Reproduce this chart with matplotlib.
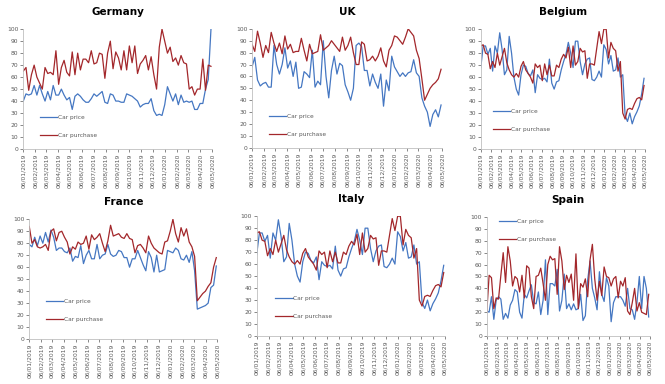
import pandas as pd
import matplotlib
matplotlib.use("Agg")
import matplotlib.pyplot as plt
import matplotlib.dates as mdates

# weekly observations, 06/01/2019 onwards
dates = pd.date_range("2019-01-06", periods=70, freq="7D")

germany_price = [40, 46, 45, 46, 53, 45, 53, 46, 40, 48,
                 41, 53, 45, 45, 50, 45, 41, 43, 33, 44,
                 46, 44, 41, 39, 39, 42, 46, 44, 46, 48,
                 39, 38, 46, 45, 40, 40, 39, 39, 46, 45,
                 44, 42, 40, 35, 37, 38, 38, 42, 32, 28,
                 29, 28, 37, 52, 46, 40, 46, 37, 45, 39,
                 40, 39, 40, 33, 33, 38, 38, 50, 58, 100]
germany_purchase = [65, 68, 49, 62, 70, 60, 55, 50, 68, 63,
                    64, 62, 82, 54, 68, 74, 64, 61, 81, 62,
                    80, 66, 75, 75, 72, 82, 71, 72, 80, 79,
                    59, 80, 90, 67, 81, 76, 66, 82, 66, 86,
                    72, 86, 63, 71, 74, 78, 66, 77, 62, 50,
                    85, 100, 90, 80, 85, 73, 76, 70, 78, 72,
                    71, 50, 52, 45, 50, 50, 75, 49, 70, 69]

uk_price = [68, 76, 57, 52, 54, 55, 51, 51, 86, 70,
            62, 70, 84, 67, 73, 60, 72, 50, 51, 64,
            62, 59, 82, 51, 56, 53, 90, 60, 42, 65,
            77, 62, 71, 69, 53, 47, 40, 50, 86, 88,
            85, 65, 65, 52, 62, 55, 50, 62, 35, 57,
            48, 77, 68, 64, 60, 63, 60, 63, 64, 74,
            63, 60, 42, 35, 30, 18, 28, 32, 26, 36]
uk_purchase = [87, 81, 98, 88, 76, 86, 80, 97, 88, 81,
               88, 79, 94, 83, 87, 80, 81, 81, 92, 82,
               73, 87, 79, 80, 81, 95, 82, 84, 86, 90,
               87, 84, 81, 93, 82, 86, 93, 80, 70, 70,
               89, 87, 73, 74, 77, 73, 77, 84, 73, 68,
               82, 86, 94, 93, 90, 87, 93, 100, 97, 94,
               82, 75, 58, 40, 45, 50, 53, 55, 58, 66]

belgium_price = [68, 86, 86, 79, 84, 65, 86, 80, 97, 83,
                 62, 66, 94, 80, 60, 50, 45, 62, 70, 69,
                 63, 61, 66, 47, 62, 59, 58, 59, 56, 75,
                 55, 50, 56, 57, 66, 73, 79, 89, 80, 68,
                 90, 90, 73, 62, 71, 75, 76, 58, 57, 60,
                 65, 60, 87, 83, 71, 78, 65, 66, 76, 60,
                 62, 28, 23, 30, 21, 27, 31, 36, 46, 59]
belgium_purchase = [86, 87, 80, 79, 67, 73, 68, 80, 70, 77,
                    84, 72, 66, 62, 60, 63, 60, 69, 73, 66,
                    63, 60, 55, 71, 68, 70, 57, 71, 62, 70,
                    61, 61, 70, 68, 75, 79, 76, 85, 68, 86,
                    70, 73, 84, 81, 82, 59, 71, 71, 70, 84,
                    98, 88, 100, 100, 76, 89, 84, 82, 65, 73,
                    30, 25, 33, 34, 33, 38, 42, 43, 41, 53]

france_price = [79, 77, 85, 78, 86, 80, 89, 81, 91, 85,
                74, 76, 76, 73, 72, 76, 65, 69, 68, 78,
                63, 70, 74, 67, 67, 79, 67, 70, 71, 79,
                71, 69, 70, 74, 73, 68, 68, 60, 67, 67,
                74, 68, 62, 57, 73, 68, 56, 70, 56, 57,
                58, 74, 73, 72, 76, 74, 67, 66, 70, 64,
                73, 57, 25, 26, 27, 28, 30, 43, 45, 61]
france_purchase = [94, 80, 83, 77, 76, 77, 79, 74, 90, 92,
                   82, 89, 90, 85, 81, 71, 77, 75, 81, 79,
                   80, 86, 75, 87, 83, 85, 88, 80, 73, 82,
                   95, 86, 87, 88, 85, 84, 88, 84, 83, 72,
                   78, 79, 76, 72, 86, 80, 76, 74, 72, 71,
                   81, 82, 90, 100, 88, 81, 93, 86, 92, 81,
                   77, 69, 32, 35, 38, 40, 44, 47, 60, 68]

# Italy panel shows the same series as Belgium
italy_price = list(belgium_price)
italy_purchase = list(belgium_purchase)

spain_price = [21, 20, 33, 14, 30, 33, 31, 14, 19, 15,
               26, 30, 39, 37, 20, 15, 35, 32, 38, 43,
               28, 27, 37, 18, 30, 64, 18, 44, 44, 42,
               56, 21, 30, 52, 23, 27, 22, 27, 22, 23,
               35, 13, 17, 47, 63, 40, 32, 22, 54, 35,
               29, 49, 42, 12, 28, 33, 33, 33, 30, 25,
               40, 23, 22, 14, 28, 50, 23, 50, 40, 16]
spain_purchase = [20, 51, 49, 23, 32, 31, 51, 70, 45, 75,
                  63, 42, 50, 48, 37, 51, 32, 59, 57, 33,
                  23, 50, 51, 57, 44, 30, 60, 67, 64, 65,
                  35, 75, 63, 39, 51, 45, 52, 30, 69, 23,
                  44, 41, 48, 33, 64, 77, 48, 30, 46, 34,
                  58, 50, 49, 42, 48, 50, 32, 46, 42, 49,
                  21, 18, 28, 40, 21, 28, 20, 19, 18, 35]

BLUE = "#4577c2"
RED = "#a3272b"
GREY = "#595959"

# title, axes rect, legend anchor (axes fraction)
panels = [
    ("Germany", germany_price, germany_purchase, [0.035, 0.612, 0.284, 0.312], (0.06, 0.19)),
    ("UK", uk_price, uk_purchase, [0.379, 0.615, 0.286, 0.310], (0.06, 0.19)),
    ("Belgium", belgium_price, belgium_purchase, [0.723, 0.612, 0.247, 0.312], (0.04, 0.235)),
    ("France", france_price, france_purchase, [0.044, 0.117, 0.283, 0.312], (0.06, 0.24)),
    ("Italy", italy_price, italy_purchase, [0.386, 0.125, 0.283, 0.312], (0.07, 0.235)),
    ("Spain", spain_price, spain_purchase, [0.732, 0.125, 0.245, 0.310], (0.04, 0.885)),
]

fig = plt.figure(figsize=(6.65, 3.84), dpi=100)

# monthly ticks on the 6th
ticks = pd.date_range("2019-01-01", "2020-05-01", freq="MS") + pd.Timedelta(days=5)

for title, price, purchase, rect, leg in panels:
    ax = fig.add_axes(rect)
    ax.plot(dates, price, color=BLUE, lw=0.9, label="Car price")
    ax.plot(dates, purchase, color=RED, lw=0.9, label="Car purchase")
    ax.set_ylim(0, 100)
    ax.set_yticks(range(0, 101, 10))
    ax.set_xlim(pd.Timestamp("2019-01-06"), pd.Timestamp("2020-05-06"))
    ax.set_xticks(ticks)
    ax.xaxis.set_major_formatter(mdates.DateFormatter("%d/%m/%Y"))
    ax.tick_params(axis="x", labelrotation=90)
    ax.tick_params(labelsize=4.3, colors=GREY, length=2, width=0.5, pad=1.5)
    for s in ["top", "right"]:
        ax.spines[s].set_visible(False)
    for s in ["left", "bottom"]:
        ax.spines[s].set_color("#bfbfbf")
        ax.spines[s].set_linewidth(0.6)
    ax.set_title(title, fontsize=7.5, fontweight="bold", pad=10)
    ax.legend(loc="center left", bbox_to_anchor=leg, frameon=False,
              fontsize=4.2, handlelength=3, handletextpad=0.1,
              labelspacing=2.2, labelcolor=GREY)

fig.savefig("out.png", dpi=100)
